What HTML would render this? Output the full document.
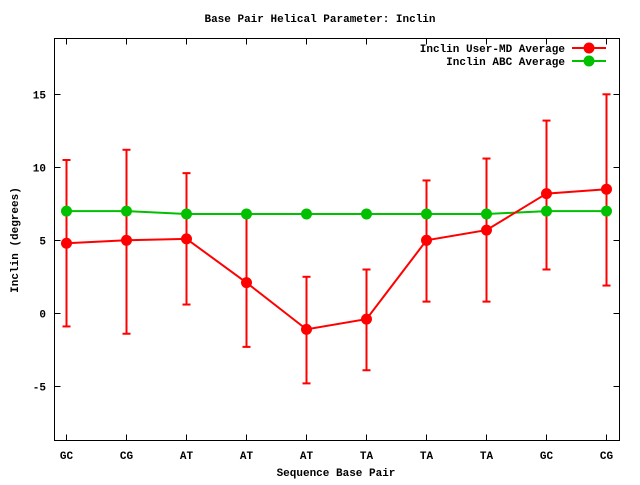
<!DOCTYPE html>
<html><head><meta charset="utf-8"><style>
body{margin:0;background:#fff}
svg text{font-family:"Liberation Mono",monospace;font-weight:bold;font-size:11px;fill:#000}
</style></head><body>
<svg id="c" width="640" height="480"></svg>
<script>
const categories=["GC","CG","AT","AT","AT","TA","TA","TA","GC","CG"];
const mdAvg=[4.8,5.0,5.1,2.1,-1.1,-0.4,5.0,5.7,8.2,8.5];
const mdLow=[-0.9,-1.4,0.6,-2.3,-4.8,-3.9,0.8,0.8,3.0,1.9];
const mdHigh=[10.5,11.2,9.6,6.6,2.5,3.0,9.1,10.6,13.2,15.0];
const abcAvg=[7.0,7.0,6.8,6.8,6.8,6.8,6.8,6.8,7.0,7.0];
const yTicks=[-5,0,5,10,15];
const svg=document.getElementById('c');
const NS='http://www.w3.org/2000/svg';
const L=54.5,R=619.5,T=38.5,B=440.5;
const X=i=>66.5+i*60;
const Y=v=>313.3-v*14.6;
function mk(tag,at,parent){const e=document.createElementNS(NS,tag);for(const k in at)e.setAttribute(k,at[k]);(parent||svg).appendChild(e);return e;}
let t=mk('text',{x:320,y:22,'text-anchor':'middle'});t.textContent='Base Pair Helical Parameter: Inclin';


let f=mk('rect',{x:L,y:T,width:R-L,height:B-T,fill:'none',stroke:'#000','stroke-width':1});


yTicks.forEach(v=>{const y=Math.round(Y(v))+0.5;
 mk('line',{x1:L,x2:L+6,y1:y,y2:y,stroke:'#000'});mk('line',{x1:R-6,x2:R,y1:y,y2:y,stroke:'#000'});
 const tx=mk('text',{x:46,y:y+4,'text-anchor':'end'});tx.textContent=v;
 
 });
categories.forEach((c,i)=>{const x=X(i);
 mk('line',{x1:x,x2:x,y1:B,y2:B-6,stroke:'#000'});mk('line',{x1:x,x2:x,y1:T,y2:T+6,stroke:'#000'});
 const tx=mk('text',{x:x,y:459,'text-anchor':'middle'});tx.textContent=c;
 
 });
t=mk('text',{x:336,y:476,'text-anchor':'middle'});t.textContent='Sequence Base Pair';


t=mk('text',{x:18,y:240,'text-anchor':'middle',transform:'rotate(-90 18 240)'});t.textContent='Inclin (degrees)';


// error bars
mdAvg.forEach((v,i)=>{const x=X(i);const g=mk('g',{stroke:'#f00','stroke-width':2});
 
 
 mk('line',{x1:x,x2:x,y1:Y(mdLow[i]),y2:Y(mdHigh[i])},g);
 mk('line',{x1:x-4,x2:x+4,y1:Y(mdLow[i]),y2:Y(mdLow[i])},g);
 mk('line',{x1:x-4,x2:x+4,y1:Y(mdHigh[i]),y2:Y(mdHigh[i])},g);});
function series(vals,col,name){
 const p=mk('polyline',{points:vals.map((v,i)=>X(i)+','+Y(v)).join(' '),fill:'none',stroke:col,'stroke-width':2});
 
 
 vals.forEach((v,i)=>{const c=mk('circle',{cx:X(i),cy:Y(v),r:5.5,fill:col});
  
  });}
series(abcAvg,'#00c000','abc-average');
series(mdAvg,'#f00','user-md-average');
// legend
[['Inclin User-MD Average','#f00',48],['Inclin ABC Average','#00c000',61]].forEach(([n,c,y])=>{
 const g=mk('g',{});
 
 const tx=mk('text',{x:565,y:y+4,'text-anchor':'end'},g);tx.textContent=n;
 mk('line',{x1:572,x2:606,y1:y,y2:y,stroke:c,'stroke-width':2},g);
 mk('circle',{cx:589,cy:y,r:5.5,fill:c},g);});
</script>
</body></html>
